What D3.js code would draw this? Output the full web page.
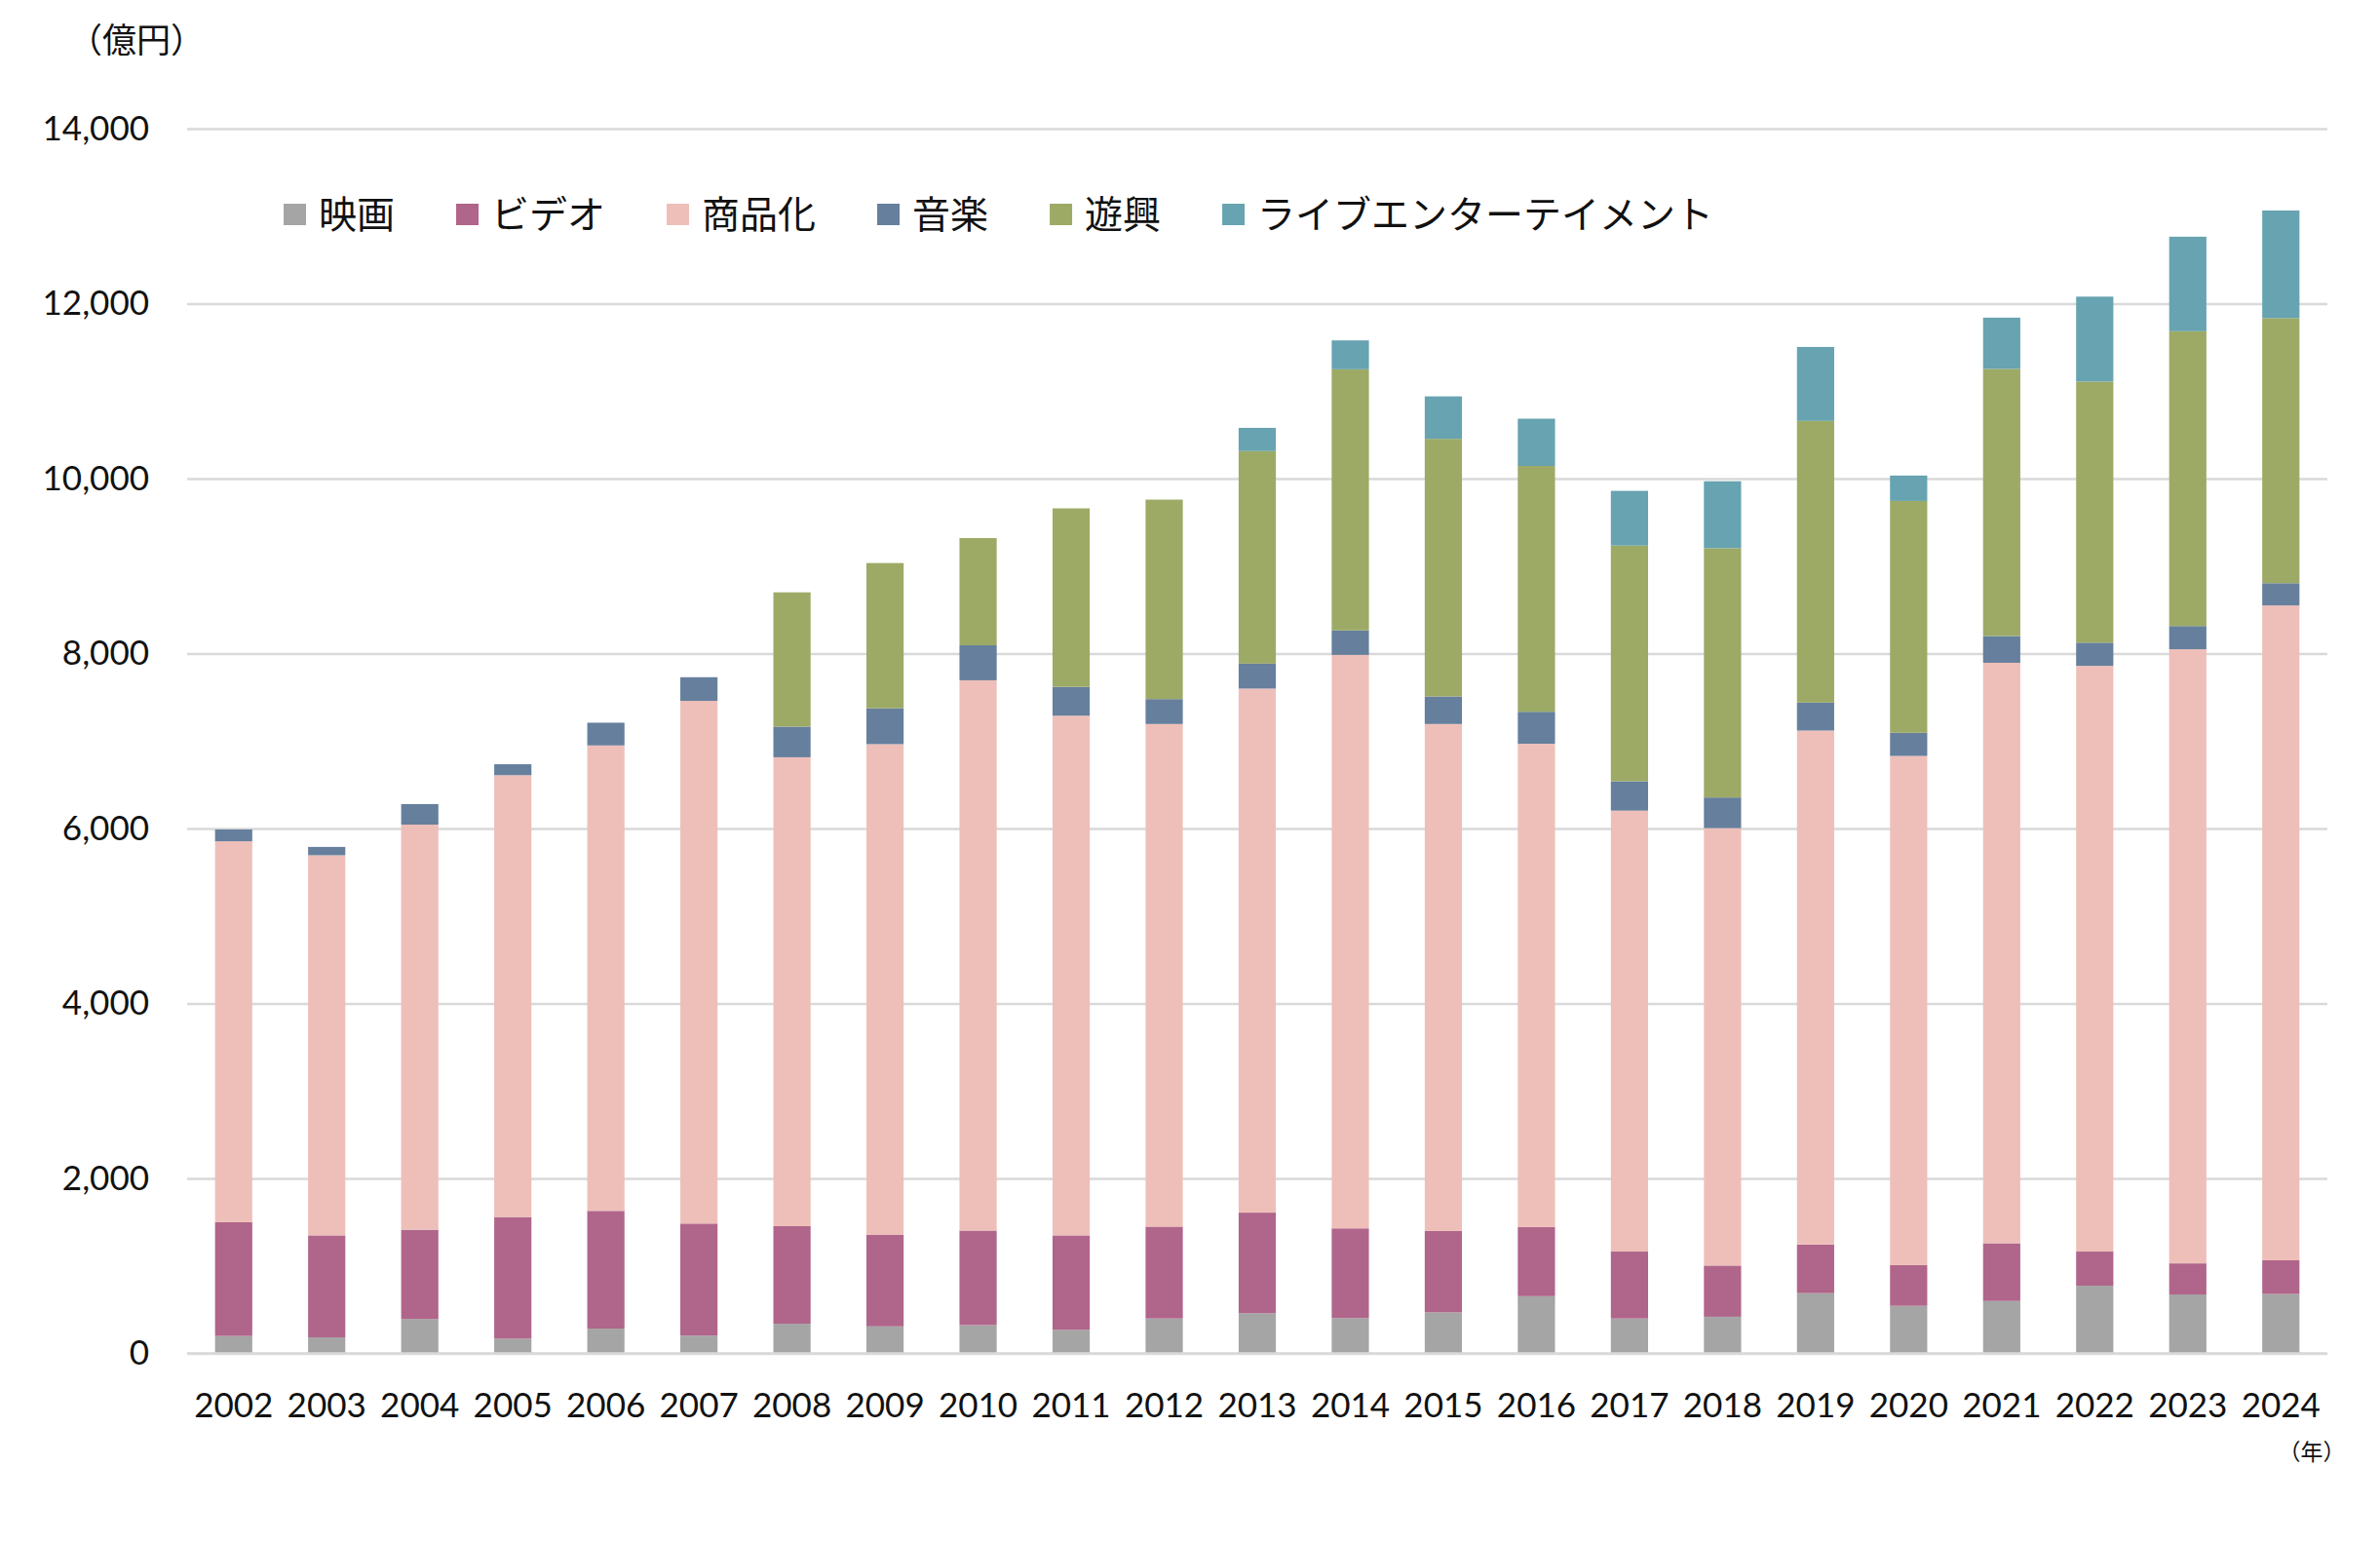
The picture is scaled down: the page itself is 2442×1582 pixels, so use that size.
<!DOCTYPE html>
<html>
<head>
<meta charset="utf-8">
<script src="https://cdn.jsdelivr.net/npm/d3@7"></script>
<style>
  body { margin: 0; background: #fff; }
  svg { display: block; }
  .jp { font-family: "Noto Sans CJK JP", "Noto Sans", sans-serif; }
  .num { font-family: Lato, "Noto Sans", sans-serif; }
</style>
</head>
<body>
<div id="root"></div>
<script>
// values in 億円
const years = ['2002','2003','2004','2005','2006','2007','2008','2009','2010','2011','2012',
  '2013','2014','2015','2016','2017','2018','2019','2020','2021','2022','2023','2024']

const film  = [200,185,395,170,285,205,340,310,325,270,400,460,405,470,655,400,420,690,545,600,775,675,680]
const video = [1300,1165,1020,1390,1345,1280,1115,1045,1080,1080,1050,1150,1025,930,790,765,585,555,465,660,390,355,385]
const merch = [4355,4345,4630,5050,5320,5975,5360,5610,6290,5940,5745,5990,6555,5795,5525,5040,5000,5875,5820,6635,6695,7020,7485]
const music = [135,95,235,125,260,270,350,410,400,330,285,285,280,315,365,335,350,320,265,305,265,265,255]
const leisure = [0,0,0,0,0,0,1535,1660,1225,2040,2280,2430,2985,2945,2810,2695,2850,3220,2650,3055,2985,3370,3030]
const live  = [0,0,0,0,0,0,0,0,0,0,0,265,330,485,540,625,765,845,290,585,970,1080,1230]

const seriesNames = ['映画','ビデオ','商品化','音楽','遊興','ライブエンターテイメント']
const seriesValues = [film, video, merch, music, leisure, live]
const colors = ['#a5a5a5','#b0658a','#eebfb9','#667f9d','#9caa66','#67a3b0']

const yTicks = [0,2000,4000,6000,8000,10000,12000,14000]

const W = 2442, H = 1582
const plotLeft = 192, plotRight = 2388, plotTop = 132, plotBottom = 1388.6

// table for d3.stack
const rows = years.map((yr, i) => {
  const r = {year: yr}
  seriesNames.forEach((s, k) => { r[s] = seriesValues[k][i] })
  return r
})

const svg = d3.select('#root')
  .append('svg')
  .attr('width', W)
  .attr('height', H)

const x = d3.scaleBand()
  .domain(years)
  .range([plotLeft, plotRight])
  .paddingInner(0.6)
  .paddingOuter(0.3)

const y = d3.scaleLinear()
  .domain([0, 14000])
  .range([plotBottom, plotTop])

const color = d3.scaleOrdinal().domain(seriesNames).range(colors)

// gridlines + y labels
const yAxis = svg.append('g')
  .attr('transform', `translate(${plotLeft},0)`)
  .call(d3.axisLeft(y)
    .tickValues(yTicks)
    .tickSize(-(plotRight - plotLeft))
    .tickPadding(39)
    .tickFormat(d3.format(',')))
yAxis.select('.domain').remove()
yAxis.selectAll('.tick line')
  .attr('stroke', '#d9d9d9')
  .attr('stroke-width', 2.5)
yAxis.selectAll('.tick text')
  .attr('class', 'num')
  .attr('font-size', 35)
  .attr('fill', '#111')

// stacked bars
const stacked = d3.stack().keys(seriesNames)(rows)

svg.append('g')
  .selectAll('g')
  .data(stacked)
  .enter()
  .append('g')
  .attr('fill', d => color(d.key))
  .selectAll('rect')
  .data(d => d)
  .enter()
  .append('rect')
  .attr('x', d => x(d.data.year))
  .attr('width', x.bandwidth())
  .attr('y', d => y(d[1]))
  .attr('height', d => y(d[0]) - y(d[1]))

// baseline drawn over the bars
svg.append('line')
  .attr('x1', plotLeft).attr('x2', plotRight)
  .attr('y1', y(0)).attr('y2', y(0))
  .attr('stroke', '#d9d9d9')
  .attr('stroke-width', 2.5)

// x labels
const xAxis = svg.append('g')
  .attr('transform', `translate(0,${plotBottom})`)
  .call(d3.axisBottom(x).tickSize(0).tickPadding(41))
xAxis.select('.domain').remove()
xAxis.selectAll('.tick text')
  .attr('class', 'num')
  .attr('font-size', 35)
  .attr('fill', '#111')

// unit labels
svg.append('text')
  .attr('class', 'jp')
  .attr('x', 140).attr('y', 42)
  .attr('dy', '0.35em')
  .attr('text-anchor', 'middle')
  .attr('font-size', 35)
  .attr('fill', '#111')
  .text('（億円）')

svg.append('text')
  .attr('class', 'jp')
  .attr('x', 2372).attr('y', 1490)
  .attr('dy', '0.35em')
  .attr('text-anchor', 'middle')
  .attr('font-size', 23)
  .attr('fill', '#111')
  .text('（年）')

// legend
const legend = svg.append('g').attr('transform', 'translate(291,220)')
let lx = 0
seriesNames.forEach(name => {
  const item = legend.append('g').attr('transform', `translate(${lx},0)`)
  item.append('rect')
    .attr('x', 0).attr('y', -11)
    .attr('width', 23).attr('height', 22)
    .attr('fill', color(name))
  const t = item.append('text')
    .attr('class', 'jp')
    .attr('x', 36).attr('y', 0)
    .attr('dy', '0.36em')
    .attr('font-size', 39)
    .attr('fill', '#111')
    .text(name)
  lx += 36 + t.node().getComputedTextLength() + 63
})
</script>
</body>
</html>
